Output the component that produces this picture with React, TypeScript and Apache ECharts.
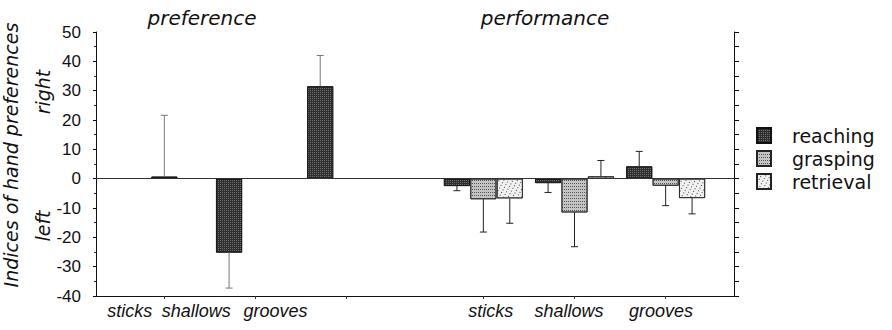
import React, { useEffect, useRef } from "react";
import * as echarts from "echarts";

// ---- data ----
const categories = ["sticks", "shallows", "grooves"];
const prefValues = [0.7, -25.2, 31.5];
const prefErrors = [20.9, 12.1, 10.5];
const reachingValues = [-2.5, -1.5, 4.2];
const reachingErrors = [1.6, 3.2, 5.1];
const graspingValues = [-7.0, -11.5, -2.4];
const graspingErrors = [11.2, 11.7, 6.8];
const retrievalValues = [-6.7, 0.8, -6.6];
const retrievalErrors = [8.5, 5.4, 5.4];
const yMin = -40;
const yMax = 50;
const yInterval = 10;

// ---- layout on the (hidden-scale) x axis ----
const xMax = 7;
const prefCenters = [0.75, 1.75, 2.75];
const perfCenters = [4.25, 5.25, 6.25];
const slot = 0.29;
const prefOffsets = [0, -1, -1];
const labelPositions = [0.37, 1.1, 1.97, 4.33, 5.19, 6.2];
const tickPositions = [...prefCenters, ...perfCenters];

const FONT = "DejaVu Sans";
const SANS = "Liberation Sans";

function barData(values: number[], centers: number[], offsets: number[]) {
  return values.map((v, i) => [centers[i] + offsets[i] * slot, v]);
}
function errData(values: number[], errs: number[], centers: number[], offsets: number[]) {
  return values.map((v, i) => [centers[i] + offsets[i] * slot, v, v + (v >= 0 ? 1 : -1) * errs[i]]);
}

function errorSeries(data: number[][], color: string) {
  return {
    type: "custom",
    data,
    encode: { x: 0, y: [1, 2] },
    z: 5,
    renderItem: (_p: any, api: any) => {
      const x = api.value(0);
      const p0 = api.coord([x, api.value(1)]);
      const p1 = api.coord([x, api.value(2)]);
      return {
        type: "group",
        children: [
          { type: "line", shape: { x1: p0[0], y1: p0[1], x2: p1[0], y2: p1[1] }, style: { stroke: color, lineWidth: 1 } },
          { type: "line", shape: { x1: p1[0] - 3.5, y1: p1[1], x2: p1[0] + 3.5, y2: p1[1] }, style: { stroke: color, lineWidth: 1 } },
        ],
      };
    },
  };
}

const reachingStyle = {
  color: "#2f2f2f",
  borderColor: "#111",
  borderWidth: 0.8,
  decal: { symbol: "rect", symbolSize: 1, color: "rgba(255,255,255,0.3)", dashArrayX: [1, 1], dashArrayY: [1, 1] },
};
const graspingStyle = {
  color: "#c4c4c4",
  borderColor: "#222",
  borderWidth: 0.8,
  decal: { symbol: "rect", symbolSize: 1, color: "#555", dashArrayX: [1, 1], dashArrayY: [1, 2] },
};
const retrievalStyle = {
  color: "#f1f1f1",
  borderColor: "#222",
  borderWidth: 0.8,
  decal: { symbol: "rect", symbolSize: 1, color: "#444", dashArrayX: [1, 3], dashArrayY: [1, 2], rotation: 0.5 },
};

export default function App() {
  const ref = useRef<HTMLDivElement>(null);
  useEffect(() => {
    if (!ref.current) return;
    const chart = echarts.init(ref.current, null, { renderer: "svg" });
    const perfOff = (k: number) => [k, k, k];
    chart.setOption({
      animation: false,
      textStyle: { fontFamily: FONT },
      grid: { left: 96, right: 158, top: 32, bottom: 34 },
      legend: {
        orient: "vertical",
        left: 756,
        top: 126,
        icon: "rect",
        itemWidth: 14,
        itemHeight: 15,
        itemGap: 4,
        padding: 0,
        data: ["reaching", "grasping", "retrieval"],
        textStyle: { fontFamily: FONT, fontSize: 19, color: "#111", padding: [0, 0, 0, 16] },
      },
      xAxis: {
        type: "value",
        min: 0,
        max: xMax,
        splitLine: { show: false },
        axisLine: { onZero: false, lineStyle: { color: "#111", width: 1 } },
        axisTick: { customValues: tickPositions, length: 3, lineStyle: { color: "#333" } },
        axisLabel: {
          customValues: labelPositions,
          margin: 6,
          fontFamily: SANS,
          fontStyle: "italic",
          fontSize: 18,
          color: "#111",
          formatter: (v: number) => {
            let best = 0;
            labelPositions.forEach((p, i) => {
              if (Math.abs(p - v) < Math.abs(labelPositions[best] - v)) best = i;
            });
            return categories[best % 3];
          },
        },
      },
      yAxis: [
        {
          type: "value",
          min: yMin,
          max: yMax,
          interval: yInterval,
          position: "left",
          splitLine: { show: false },
          axisLine: { show: true, lineStyle: { color: "#111" } },
          axisTick: { show: true, length: 3, lineStyle: { color: "#111" } },
          minorTick: { show: true, splitNumber: 2, length: 2, lineStyle: { color: "#333" } },
          axisLabel: { fontFamily: SANS, fontSize: 17, color: "#111", margin: 15 },
        },
        {
          type: "value",
          min: yMin,
          max: yMax,
          interval: yInterval / 2,
          position: "right",
          splitLine: { show: false },
          axisLine: { show: true, lineStyle: { color: "#111" } },
          axisTick: { show: true, length: 5, lineStyle: { color: "#111" } },
          axisLabel: { show: false },
        },
      ],
      graphic: [
        {
          type: "text",
          x: 202,
          y: 18,
          style: { text: "preference", font: `italic 20px "${FONT}"`, fill: "#111", textAlign: "center", textVerticalAlign: "middle" },
        },
        {
          type: "text",
          x: 545,
          y: 18,
          style: { text: "performance", font: `italic 20px "${FONT}"`, fill: "#111", textAlign: "center", textVerticalAlign: "middle" },
        },
        {
          type: "text",
          x: 11,
          y: 155,
          rotation: Math.PI / 2,
          style: { text: "Indices of hand preferences", font: `italic 19px "${FONT}"`, fill: "#111", textAlign: "center", textVerticalAlign: "middle" },
        },
        {
          type: "text",
          x: 43,
          y: 92,
          rotation: Math.PI / 2,
          style: { text: "right", font: `italic 19px "${FONT}"`, fill: "#111", textAlign: "center", textVerticalAlign: "middle" },
        },
        {
          type: "text",
          x: 43,
          y: 226,
          rotation: Math.PI / 2,
          style: { text: "left", font: `italic 19px "${FONT}"`, fill: "#111", textAlign: "center", textVerticalAlign: "middle" },
        },
      ],
      series: [
        {
          name: "preference",
          type: "bar",
          barWidth: 26,
          barGap: "-100%",
          itemStyle: reachingStyle,
          data: barData(prefValues, prefCenters, prefOffsets),
          markLine: {
            silent: true,
            symbol: "none",
            label: { show: false },
            lineStyle: { color: "#333", width: 1, type: "solid" },
            data: [{ yAxis: 0 }],
          },
        },
        {
          name: "reaching",
          type: "bar",
          barWidth: 26,
          barGap: "-100%",
          itemStyle: reachingStyle,
          data: barData(reachingValues, perfCenters, perfOff(-1)),
        },
        {
          name: "grasping",
          type: "bar",
          barWidth: 26,
          barGap: "-100%",
          itemStyle: graspingStyle,
          data: barData(graspingValues, perfCenters, perfOff(0)),
        },
        {
          name: "retrieval",
          type: "bar",
          barWidth: 26,
          barGap: "-100%",
          itemStyle: retrievalStyle,
          data: barData(retrievalValues, perfCenters, perfOff(1)),
        },
        errorSeries(errData(prefValues, prefErrors, prefCenters, prefOffsets), "#777"),
        errorSeries(errData(reachingValues, reachingErrors, perfCenters, perfOff(-1)), "#222"),
        errorSeries(errData(graspingValues, graspingErrors, perfCenters, perfOff(0)), "#222"),
        errorSeries(errData(retrievalValues, retrievalErrors, perfCenters, perfOff(1)), "#222"),
      ],
    });
    return () => chart.dispose();
  }, []);
  return <div ref={ref} style={{ position: "absolute", left: 0, top: 0, width: 892, height: 330 }} />;
}
